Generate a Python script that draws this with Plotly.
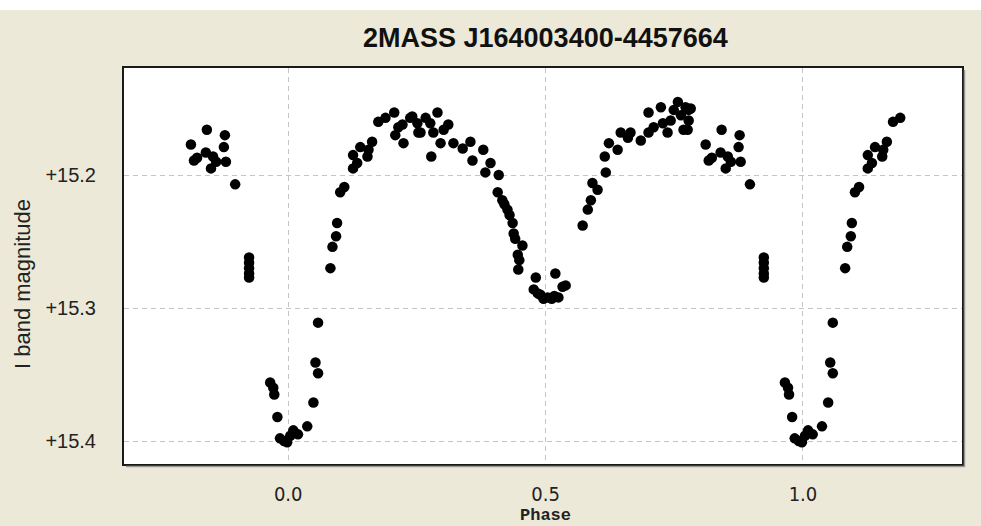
import plotly.graph_objects as go

# Base phased light curve (phase in [0,1), I band magnitude)
phase = [
    0.010, 0.019, 0.037, 0.049, 0.053, 0.058, 0.058, 0.004,
    0.082, 0.086, 0.093, 0.095, 0.101, 0.109, 0.126, 0.134, 0.126, 0.140,
    0.154, 0.163, 0.156, 0.175, 0.189, 0.206, 0.214, 0.208, 0.224, 0.237,
    0.251, 0.253, 0.222, 0.241, 0.257, 0.267, 0.276, 0.290, 0.282, 0.296,
    0.311, 0.302, 0.278, 0.321, 0.339, 0.354, 0.358, 0.379, 0.393, 0.383,
    0.409, 0.407, 0.416, 0.420, 0.426, 0.430, 0.436, 0.438, 0.441, 0.455,
    0.446, 0.449, 0.447, 0.481, 0.477, 0.485, 0.490, 0.496, 0.504, 0.512,
    0.517, 0.519, 0.525, 0.533, 0.539,
    0.572, 0.582, 0.588, 0.601, 0.591, 0.617, 0.615, 0.623, 0.640, 0.646,
    0.660, 0.665, 0.685, 0.700, 0.700, 0.710, 0.724, 0.728, 0.737, 0.743,
    0.749, 0.757, 0.763, 0.768, 0.778, 0.782, 0.772, 0.778, 0.776,
    0.811, 0.817, 0.823, 0.842, 0.840, 0.854, 0.850, 0.860, 0.877, 0.875,
    0.879, 0.897, 0.924, 0.924, 0.924, 0.924, 0.924,
    0.965, 0.971, 0.973, 0.979, 0.984, 0.992, 0.998,
]
mag = [
    15.392, 15.395, 15.389, 15.371, 15.341, 15.349, 15.311, 15.396,
    15.270, 15.254, 15.246, 15.236, 15.213, 15.209, 15.195, 15.191, 15.185, 15.179,
    15.186, 15.175, 15.181, 15.160, 15.157, 15.153, 15.164, 15.170, 15.176, 15.157,
    15.161, 15.168, 15.162, 15.156, 15.168, 15.157, 15.161, 15.153, 15.168, 15.176,
    15.162, 15.166, 15.186, 15.176, 15.180, 15.175, 15.189, 15.181, 15.191, 15.198,
    15.200, 15.213, 15.219, 15.222, 15.226, 15.230, 15.236, 15.244, 15.248, 15.253,
    15.260, 15.264, 15.271, 15.277, 15.286, 15.289, 15.290, 15.293, 15.292, 15.293,
    15.291, 15.274, 15.292, 15.284, 15.283,
    15.238, 15.226, 15.219, 15.211, 15.206, 15.198, 15.186, 15.176, 15.181, 15.168,
    15.172, 15.168, 15.174, 15.153, 15.168, 15.164, 15.149, 15.161, 15.168, 15.159,
    15.151, 15.145, 15.155, 15.166, 15.151, 15.150, 15.149, 15.159, 15.166,
    15.177, 15.189, 15.187, 15.166, 15.183, 15.186, 15.195, 15.190, 15.170, 15.179,
    15.190, 15.207, 15.262, 15.266, 15.270, 15.274, 15.277,
    15.356, 15.360, 15.365, 15.382, 15.398, 15.400, 15.401,
]

x_tickvals = [0.0, 0.5, 1.0]
x_ticktext = ["0.0", "0.5", "1.0"]
y_tickvals = [15.2, 15.3, 15.4]
y_ticktext = ["+15.2", "+15.3", "+15.4"]

# Phase-wrapped display (-0.19 .. 1.19)
xs, ys = [], []
for p, m in zip(phase, mag):
    xs.append(p); ys.append(m)
    if p >= 0.81:
        xs.append(p - 1.0); ys.append(m)
    if p <= 0.19:
        xs.append(p + 1.0); ys.append(m)

W, H = 981, 526
L, R, T, B = 124, 19, 68, 62
pw, ph = W - L - R, H - T - B
BG = "#ECE9D8"

fig = go.Figure()
fig.add_trace(go.Scatter(
    x=xs, y=ys, mode="markers",
    marker=dict(size=10.5, color="black", line=dict(width=0)),
    hoverinfo="skip", showlegend=False,
))

fig.update_layout(
    width=W, height=H,
    margin=dict(l=L, r=R, t=T, b=B),
    paper_bgcolor=BG, plot_bgcolor="white",
    showlegend=False,
    xaxis=dict(
        range=[-0.319, 1.309],
        tickvals=x_tickvals, ticktext=x_ticktext,
        showgrid=True, gridcolor="#c4c4c4", gridwidth=1, griddash="5px,4px",
        zeroline=False, showline=True, mirror=True, linecolor="#1a1a1a", linewidth=2,
        ticks="", ticklabelstandoff=11,
        tickfont=dict(family="Liberation Sans Narrow, DejaVu Sans Condensed", size=20, color="#222"),
    ),
    yaxis=dict(
        range=[15.4173, 15.1195],
        tickvals=y_tickvals, ticktext=y_ticktext,
        showgrid=True, gridcolor="#c4c4c4", gridwidth=1, griddash="5px,4px",
        zeroline=False, showline=True, mirror=True, linecolor="#1a1a1a", linewidth=2,
        ticks="", ticklabelstandoff=22,
        tickfont=dict(family="Liberation Sans, Arial", size=20, color="#222"),
    ),
    shapes=[
        dict(type="rect", xref="paper", yref="paper",
             x0=-L / pw, x1=1 + R / pw, y0=1 + (T - 10) / ph, y1=1 + T / ph,
             fillcolor="white", line=dict(width=0), layer="below"),
        dict(type="line", xref="paper", yref="paper",
             x0=1 + 2.5 / pw, x1=1 + 2.5 / pw, y0=-3 / ph, y1=1 - 2 / ph,
             line=dict(color="#9a9a90", width=1.5)),
        dict(type="line", xref="paper", yref="paper",
             x0=2 / pw, x1=1 + 3 / pw, y0=-2.5 / ph, y1=-2.5 / ph,
             line=dict(color="#9a9a90", width=1.5)),
    ],
    annotations=[
        dict(text="<b>2MASS J164003400-4457664</b>", xref="paper", yref="paper",
             x=(545 - L) / pw, y=1 + (T - 38) / ph, xanchor="center", yanchor="middle",
             showarrow=False, font=dict(family="Liberation Sans, Arial", size=27, color="#111")),
        dict(text="I band magnitude", xref="paper", yref="paper",
             x=-(L - 22) / pw, y=(H - B - 284) / ph, xanchor="center", yanchor="middle",
             textangle=-90, showarrow=False,
             font=dict(family="Liberation Sans, Arial", size=22, color="#222")),
        dict(text="<b>Phase</b>", xref="paper", yref="paper",
             x=(545 - L) / pw, y=-(515 - (H - B)) / ph, xanchor="center", yanchor="middle",
             showarrow=False, font=dict(family="Liberation Mono, DejaVu Sans Mono", size=17, color="#222")),
    ],
)

fig.write_html("out.html")
